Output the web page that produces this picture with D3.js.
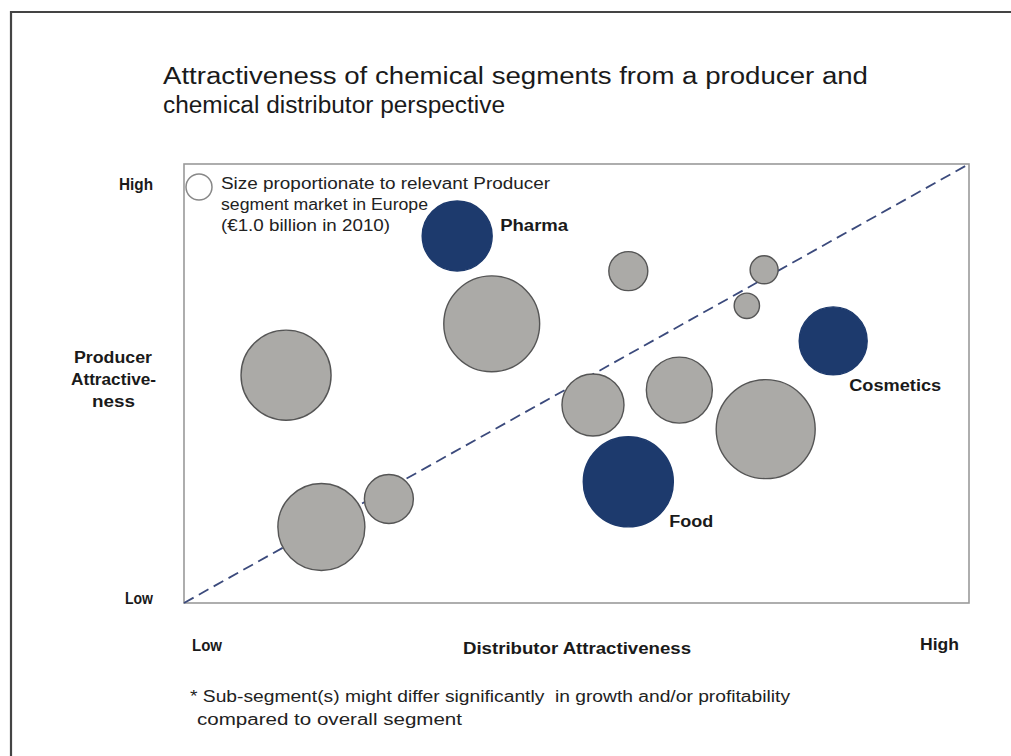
<!DOCTYPE html>
<html>
<head>
<meta charset="utf-8">
<script src="https://cdn.jsdelivr.net/npm/d3@7"></script>
<style>
  html, body { margin: 0; padding: 0; background: #fff; }
  svg { display: block; font-family: "Liberation Sans", Arial, sans-serif; }
</style>
</head>
<body>
<svg id="chart" width="1011" height="756"></svg>
<script>
// Segment bubbles: distributor attractiveness (x, 0-10), producer attractiveness (y, 0-10),
// producer segment market size in Europe (€ billion, 2010)
const segments = ["Pharma", "", "", "", "", "", "Cosmetics", "", "", "", "Food", "", ""];
const distributorScore = [3.48, 3.92, 1.30, 5.66, 7.39, 7.17, 8.27, 5.21, 6.31, 7.41, 5.66, 1.75, 2.61];
const producerScore    = [8.36, 6.36, 5.19, 7.56, 7.59, 6.77, 5.97, 4.51, 4.85, 3.96, 2.76, 1.73, 2.37];
const marketSize       = [7.25, 13.6, 12.0, 2.25, 1.16, 0.95, 6.84, 5.69, 6.44, 14.5, 12.0, 11.2, 3.55];
const highlighted      = [true, false, false, false, false, false, true, false, false, false, true, false, false];
const legendSize = 1.0;

const titleLines = ["Attractiveness of chemical segments from a producer and",
                    "chemical distributor perspective"];
const legendLines = ["Size proportionate to relevant Producer",
                     "segment market in Europe",
                     "(€1.0 billion in 2010)"];
const yAxisLines = ["Producer", "Attractive-", "ness"];
const footnoteLines = ["* Sub-segment(s) might differ significantly  in growth and/or profitability",
                       "compared to overall segment"];

const svg = d3.select("#chart");
const plot = { left: 184, top: 164, right: 969, bottom: 603 };

const x = d3.scaleLinear().domain([0, 10]).range([plot.left, plot.right]);
const y = d3.scaleLinear().domain([0, 10]).range([plot.bottom, plot.top]);
const r = d3.scaleSqrt().domain([0, 1]).range([0, 13]).clamp(false);

const navy = "#1d3a6d";
const grayFill = "#abaaa7";
const ink = "#1a1a1a";

// helper for a text run, optionally fitted to a given width
function label(g, txt, px, py, opts) {
  const t = g.append("text")
    .attr("x", px).attr("y", py)
    .attr("font-size", opts.size)
    .attr("font-weight", opts.bold ? "bold" : "normal")
    .attr("fill", opts.fill || ink)
    .attr("text-anchor", opts.anchor || "start")
    .style("white-space", "pre")
    .text(txt);
  if (opts.width) t.attr("textLength", opts.width).attr("lengthAdjust", "spacingAndGlyphs");
  return t;
}

// page frame (top and left edges)
svg.append("path")
  .attr("d", "M11,756 L11,12 L1011,12")
  .attr("fill", "none").attr("stroke", "#444").attr("stroke-width", 2.2);

// title
const titleWidths = [705, 342];
const gTitle = svg.append("g");
titleLines.forEach((d, i) => label(gTitle, d, 163, 84 + i * 29, { size: 23, width: titleWidths[i], fill: "#1a1a1a" }));

// plot frame
svg.append("rect")
  .attr("x", plot.left).attr("y", plot.top)
  .attr("width", plot.right - plot.left).attr("height", plot.bottom - plot.top)
  .attr("fill", "#fff").attr("stroke", "#9a9a9a").attr("stroke-width", 1.6);

// diagonal reference line
svg.append("line")
  .attr("x1", x(0)).attr("y1", y(0)).attr("x2", x(10)).attr("y2", y(10))
  .attr("stroke", "#3b4a7c").attr("stroke-width", 1.8)
  .attr("stroke-dasharray", "11,6");

// legend
svg.append("circle")
  .attr("cx", 199).attr("cy", 187).attr("r", r(legendSize))
  .attr("fill", "none").attr("stroke", "#888").attr("stroke-width", 1.5);
const legendWidths = [329, 207, 169];
const gLegend = svg.append("g");
legendLines.forEach((d, i) => label(gLegend, d, 221, 189 + i * 21, { size: 16, width: legendWidths[i], fill: "#222" }));

// bubbles
const data = segments.map((name, i) => ({
  name, dx: distributorScore[i], py: producerScore[i], size: marketSize[i], hi: highlighted[i]
}));

svg.append("g").selectAll("circle").data(data).join("circle")
  .attr("cx", d => x(d.dx)).attr("cy", d => y(d.py)).attr("r", d => r(d.size))
  .attr("fill", d => d.hi ? navy : grayFill)
  .attr("stroke", d => d.hi ? navy : "#555")
  .attr("stroke-width", 1.4);

// segment name labels
const labelOffset = { "Pharma": [8, -5, 68], "Cosmetics": [-18, 50, 92], "Food": [-4, 45, 44] };
const gNames = svg.append("g");
data.filter(d => d.name).forEach(d => {
  const o = labelOffset[d.name];
  label(gNames, d.name, x(d.dx) + r(d.size) + o[0], y(d.py) + o[1], { size: 16, bold: true, width: o[2] });
});

// y-axis labels
const gAxis = svg.append("g");
label(gAxis, "High", 153, 190, { size: 16, bold: true, anchor: "end", width: 34 });
label(gAxis, "Low", 153, 604, { size: 16, bold: true, anchor: "end", width: 28 });
const yAxisSpans = [[74, 78], [71, 85], [92, 43]];
yAxisLines.forEach((d, i) => label(gAxis, d, yAxisSpans[i][0], 363 + i * 22, { size: 16, bold: true, width: yAxisSpans[i][1] }));

// x-axis labels
label(gAxis, "Low", 192, 651, { size: 16, bold: true, width: 30 });
label(gAxis, "Distributor Attractiveness", 463, 654, { size: 16, bold: true, width: 228 });
label(gAxis, "High", 920, 650, { size: 16, bold: true, width: 39 });

// footnote
const gFoot = svg.append("g");
label(gFoot, footnoteLines[0], 190, 702, { size: 16, width: 600, fill: "#222" });
label(gFoot, footnoteLines[1], 197, 725, { size: 16, width: 265, fill: "#222" });
</script>
</body>
</html>
